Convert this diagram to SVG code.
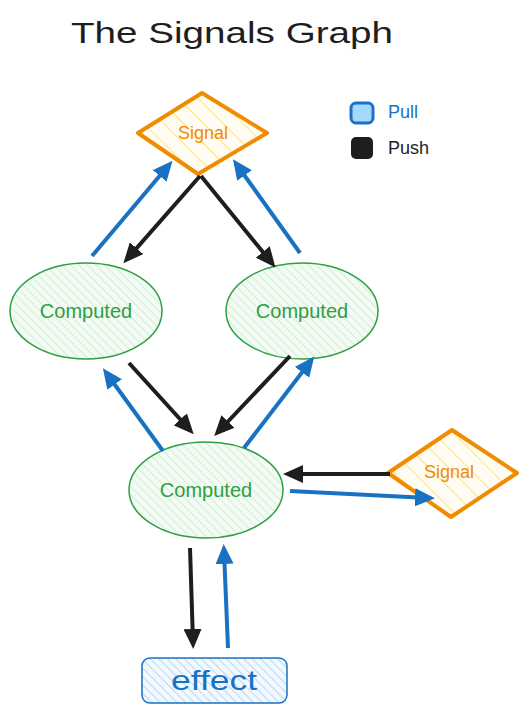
<svg xmlns="http://www.w3.org/2000/svg" width="529" height="713" viewBox="0 0 529 713">
<defs>
<style>
.title{font-family:"Liberation Sans",Arial,sans-serif;font-size:30px;fill:#1e1e1e;text-anchor:middle}
.sig{fill:url(#hatchY);stroke:#f08c00;stroke-width:4;stroke-linejoin:round}
.sigt{font-family:"Liberation Sans",Arial,sans-serif;font-size:18px;fill:#f08c00;text-anchor:middle;dominant-baseline:central}
.comp{fill:url(#hatchG);stroke:#2f9e44;stroke-width:1.5}
.compt{font-family:"Liberation Sans",Arial,sans-serif;font-size:20px;fill:#2f9e44;text-anchor:middle;dominant-baseline:central}
.eff{fill:url(#hatchB);stroke:#1971c2;stroke-width:1.5}
.efft{font-family:"Liberation Sans",Arial,sans-serif;font-size:28px;fill:#1971c2;text-anchor:middle;dominant-baseline:central}
.leg{font-family:"Liberation Sans",Arial,sans-serif;font-size:18px;dominant-baseline:central}
.pull{stroke:#1971c2;stroke-width:4;fill:none;marker-end:url(#aB)}
.push{stroke:#1e1e1e;stroke-width:4;fill:none;marker-end:url(#aK)}
</style>
<pattern id="hatchY" patternUnits="userSpaceOnUse" width="14" height="14" patternTransform="rotate(-45)">
<rect width="14" height="14" fill="#fffdf3"/><line x1="0" y1="0" x2="0" y2="14" stroke="#ffe27a" stroke-width="2"/>
</pattern>
<pattern id="hatchG" patternUnits="userSpaceOnUse" width="6" height="6" patternTransform="rotate(-45)">
<rect width="6" height="6" fill="#f3fbf4"/><line x1="0" y1="0" x2="0" y2="6" stroke="#c4ebc9" stroke-width="1.5"/>
</pattern>
<pattern id="hatchB" patternUnits="userSpaceOnUse" width="6" height="6" patternTransform="rotate(-45)">
<rect width="6" height="6" fill="#f2f8ff"/><line x1="0" y1="0" x2="0" y2="6" stroke="#a9cfee" stroke-width="1.5"/>
</pattern>
<marker id="aB" markerUnits="userSpaceOnUse" markerWidth="20" markerHeight="18" refX="13" refY="9" orient="auto">
<path d="M0,0 L20,9 L0,18 z" fill="#1971c2"/>
</marker>
<marker id="aK" markerUnits="userSpaceOnUse" markerWidth="20" markerHeight="18" refX="13" refY="9" orient="auto">
<path d="M0,0 L20,9 L0,18 z" fill="#1e1e1e"/>
</marker>
</defs>
<rect width="529" height="713" fill="#ffffff"/>
<text class="title" x="232" y="43" textLength="322" lengthAdjust="spacingAndGlyphs">The Signals Graph</text>

<g id="legend">
<rect x="351" y="103" width="22" height="20" rx="5" fill="#a5d8ff" stroke="#1971c2" stroke-width="3"/>
<text class="leg" x="388" y="112" fill="#1971c2">Pull</text>
<rect x="351" y="137" width="22" height="22" rx="5" fill="#1e1e1e"/>
<text class="leg" x="388" y="148" fill="#1e1e1e">Push</text>
</g>

<g id="signal-top">
<path class="sig" d="M202,93 L267,133 L198,174 L138,133 Z"/>
<text class="sigt" x="203" y="133">Signal</text>
</g>

<g id="computed-left">
<ellipse class="comp" cx="86" cy="311" rx="76" ry="48"/>
<text class="compt" x="86" y="311">Computed</text>
</g>

<g id="computed-right">
<ellipse class="comp" cx="302" cy="311" rx="76" ry="48"/>
<text class="compt" x="302" y="311">Computed</text>
</g>

<g id="computed-bottom">
<ellipse class="comp" cx="206" cy="490" rx="77" ry="48"/>
<text class="compt" x="206" y="490">Computed</text>
</g>

<g id="signal-right">
<path class="sig" d="M452,430 L517,473 L451,517 L388,473 Z"/>
<text class="sigt" x="449" y="472">Signal</text>
</g>

<g id="effect">
<rect class="eff" x="142" y="658" width="145" height="45" rx="8"/>
<text class="efft" x="214" y="680" textLength="86" lengthAdjust="spacingAndGlyphs">effect</text>
</g>

<g id="connectors">
<line class="pull" x1="92" y1="256" x2="168" y2="166"/>
<line class="push" x1="200" y1="176" x2="128" y2="258"/>
<line class="push" x1="201" y1="176" x2="271" y2="262"/>
<line class="pull" x1="300" y1="253" x2="237" y2="165"/>
<line class="push" x1="129" y1="363" x2="189" y2="429"/>
<line class="pull" x1="163" y1="451" x2="107" y2="374"/>
<line class="push" x1="290" y1="356" x2="219" y2="431"/>
<line class="pull" x1="244" y1="448" x2="310" y2="362"/>
<line class="push" x1="390" y1="474" x2="290" y2="474"/>
<line class="pull" x1="290" y1="491" x2="428" y2="498"/>
<line class="push" x1="190" y1="548" x2="193" y2="642"/>
<line class="pull" x1="228" y1="648" x2="224" y2="551"/>
</g>
</svg>
